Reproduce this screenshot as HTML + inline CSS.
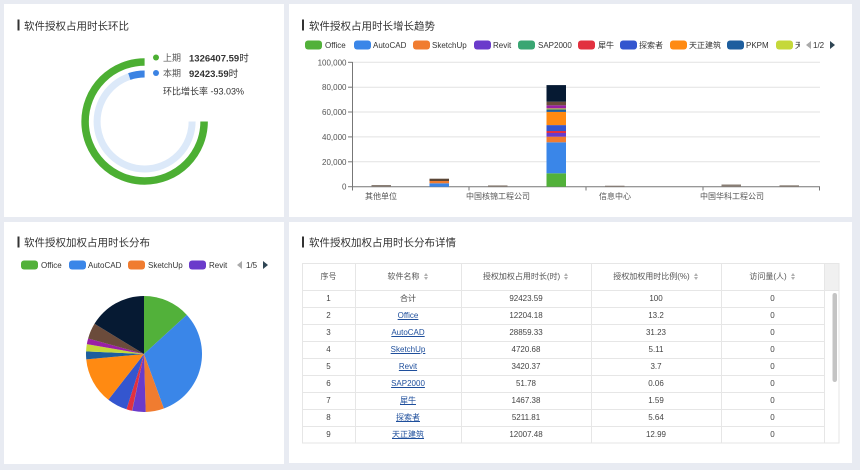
<!DOCTYPE html>
<html><head><meta charset="utf-8">
<style>
html,body{margin:0;padding:0;}
body{width:860px;height:470px;overflow:hidden;background:#e8ebf2;position:relative;font-family:"Liberation Sans","Noto Sans CJK SC",sans-serif;}
svg{position:absolute;left:0;top:0;}
.r{position:absolute;left:302px;width:522px;height:17px;line-height:17px;font-size:8px;color:#444;}
.h{position:absolute;left:302px;width:522px;height:27px;line-height:27px;font-size:8px;color:#555;}
.c{position:absolute;top:0;text-align:center;white-space:nowrap;}
.c1{left:0;width:53px}.c2{left:53px;width:106px}.c3{left:159px;width:130px}.c4{left:289px;width:130px}.c5{left:419px;width:103px}
.s{display:inline-block;width:5px;height:7px;position:relative;vertical-align:-1px;margin-left:4px;}
.s:before{content:"";position:absolute;left:0;top:0;border-left:2.5px solid transparent;border-right:2.5px solid transparent;border-bottom:3px solid #b0b0b0;}
.s:after{content:"";position:absolute;left:0;bottom:0;border-left:2.5px solid transparent;border-right:2.5px solid transparent;border-top:3px solid #b0b0b0;}
a{color:#1f4f9c;text-decoration:underline;}
</style></head>
<body>
<svg width="860" height="470" viewBox="0 0 860 470" font-family="'Liberation Sans','Noto Sans CJK SC',sans-serif">
<defs>
<clipPath id="lgclip"><rect x="289" y="30" width="511" height="25"/></clipPath>
</defs>
<!-- panels -->
<rect x="4" y="4" width="280" height="213" fill="#fff"/>
<rect x="289" y="4" width="563" height="213" fill="#fff"/>
<rect x="4" y="222" width="280" height="242" fill="#fff"/>
<rect x="289" y="222" width="563" height="241" fill="#fff"/>

<!-- titles -->
<rect x="17.5" y="19.5" width="2" height="11" fill="#333"/>
<text x="24" y="29.5" font-size="10.5" fill="#333">软件授权占用时长环比</text>
<rect x="302" y="19.5" width="2" height="11" fill="#333"/>
<text x="309" y="29.5" font-size="10.5" fill="#333">软件授权占用时长增长趋势</text>
<rect x="17.5" y="236.5" width="2" height="11" fill="#333"/>
<text x="24" y="246" font-size="10.5" fill="#333">软件授权加权占用时长分布</text>
<rect x="302" y="236.5" width="2" height="11" fill="#333"/>
<text x="309" y="246" font-size="10.5" fill="#333">软件授权加权占用时长分布详情</text>

<!-- gauge -->
<path d="M144.6 62 A59.5 59.5 0 1 0 204.1 121.5" stroke="#4caf33" stroke-width="7.5" fill="none"/>
<path d="M144.6 74 A47.5 47.5 0 1 0 192.1 121.5" stroke="#dce9f9" stroke-width="7" fill="none"/>
<path d="M144.6 74 A47.5 47.5 0 0 0 129.3 76.5" stroke="#3b83e3" stroke-width="7" fill="none"/>
<circle cx="156" cy="57.5" r="3" fill="#4caf33"/>
<text x="163" y="61" font-size="9" fill="#555">上期</text>
<text x="189" y="61.5" font-size="9.5" fill="#333"><tspan font-weight="bold">1326407.59</tspan><tspan>时</tspan></text>
<circle cx="156" cy="73" r="3" fill="#3b83e3"/>
<text x="163" y="76.5" font-size="9" fill="#555">本期</text>
<text x="189" y="77" font-size="9.5" fill="#333"><tspan font-weight="bold">92423.59</tspan><tspan>时</tspan></text>
<text x="163" y="94.5" font-size="9" fill="#333">环比增长率 -93.03%</text>

<!-- bar chart legend -->
<g clip-path="url(#lgclip)" font-size="8" fill="#333">
<rect x="305" y="40.5" width="17" height="9" rx="3" fill="#52b13a"/><text x="325" y="48">Office</text>
<rect x="354" y="40.5" width="17" height="9" rx="3" fill="#3a86e8"/><text x="373" y="48">AutoCAD</text>
<rect x="413" y="40.5" width="17" height="9" rx="3" fill="#f07c30"/><text x="432" y="48">SketchUp</text>
<rect x="474" y="40.5" width="17" height="9" rx="3" fill="#6a3bcb"/><text x="493" y="48">Revit</text>
<rect x="518" y="40.5" width="17" height="9" rx="3" fill="#3aa673"/><text x="538" y="48">SAP2000</text>
<rect x="578" y="40.5" width="17" height="9" rx="3" fill="#e2313f"/><text x="598" y="48">犀牛</text>
<rect x="620" y="40.5" width="17" height="9" rx="3" fill="#3456cf"/><text x="639" y="48">探索者</text>
<rect x="670" y="40.5" width="17" height="9" rx="3" fill="#ff8a12"/><text x="689" y="48">天正建筑</text>
<rect x="727" y="40.5" width="17" height="9" rx="3" fill="#1d5e9e"/><text x="746" y="48">PKPM</text>
<rect x="776" y="40.5" width="17" height="9" rx="3" fill="#c5d83a"/><text x="795" y="48">天正结构</text>
</g>
<polygon points="806,45 811,41 811,49" fill="#aaa"/>
<text x="813" y="48" font-size="8" fill="#333">1/2</text>
<polygon points="830,41 835,45 830,49" fill="#2f4554"/>

<!-- bar chart grid -->
<g stroke="#e2e2e2" stroke-width="1">
<line x1="352" y1="62.3" x2="820" y2="62.3"/>
<line x1="352" y1="87.2" x2="820" y2="87.2"/>
<line x1="352" y1="112" x2="820" y2="112"/>
<line x1="352" y1="136.9" x2="820" y2="136.9"/>
<line x1="352" y1="161.8" x2="820" y2="161.8"/>
</g>
<g stroke="#777" stroke-width="1">
<line x1="352.5" y1="62" x2="352.5" y2="187"/>
<line x1="348" y1="62.3" x2="352.5" y2="62.3"/>
<line x1="348" y1="87.2" x2="352.5" y2="87.2"/>
<line x1="348" y1="112" x2="352.5" y2="112"/>
<line x1="348" y1="136.9" x2="352.5" y2="136.9"/>
<line x1="348" y1="161.8" x2="352.5" y2="161.8"/>
<line x1="348" y1="186.7" x2="352.5" y2="186.7"/>
<line x1="352" y1="186.7" x2="820" y2="186.7"/>
<line x1="352.5" y1="186.7" x2="352.5" y2="190.5"/>
<line x1="469" y1="186.7" x2="469" y2="190.5"/>
<line x1="586" y1="186.7" x2="586" y2="190.5"/>
<line x1="703" y1="186.7" x2="703" y2="190.5"/>
<line x1="819.5" y1="186.7" x2="819.5" y2="190.5"/>
</g>
<g font-size="8" fill="#555" text-anchor="end">
<text x="346.5" y="65.3">100,000</text>
<text x="346.5" y="90.2">80,000</text>
<text x="346.5" y="115">60,000</text>
<text x="346.5" y="139.9">40,000</text>
<text x="346.5" y="164.8">20,000</text>
<text x="346.5" y="189.7">0</text>
</g>
<g font-size="8" fill="#555" text-anchor="middle">
<text x="381" y="199">其他单位</text>
<text x="498" y="199">中国核锦工程公司</text>
<text x="615" y="199">信息中心</text>
<text x="732" y="199">中国华科工程公司</text>
</g>
<!-- bars -->
<rect x="371.5" y="185" width="19.5" height="1.7" fill="#8a7f76"/>
<rect x="429.5" y="183.3" width="19.5" height="3.4" fill="#3a86e8"/>
<rect x="429.5" y="181" width="19.5" height="2.3" fill="#f07c30"/>
<rect x="429.5" y="178.7" width="19.5" height="2.3" fill="#5b4636"/>
<rect x="488" y="185.4" width="19.5" height="1.3" fill="#8a7f76"/>
<rect x="546.5" y="173.3" width="19.5" height="13.4" fill="#52b13a"/>
<rect x="546.5" y="142.3" width="19.5" height="31" fill="#3a86e8"/>
<rect x="546.5" y="136.7" width="19.5" height="5.6" fill="#f07c30"/>
<rect x="546.5" y="133" width="19.5" height="3.7" fill="#6a3bcb"/>
<rect x="546.5" y="131" width="19.5" height="2" fill="#e2313f"/>
<rect x="546.5" y="125.1" width="19.5" height="5.9" fill="#3456cf"/>
<rect x="546.5" y="111.9" width="19.5" height="13.2" fill="#ff8a12"/>
<rect x="546.5" y="109.5" width="19.5" height="2.4" fill="#1d5e9e"/>
<rect x="546.5" y="108.4" width="19.5" height="1.1" fill="#c5d83a"/>
<rect x="546.5" y="105.3" width="19.5" height="3.1" fill="#9a1fa6"/>
<rect x="546.5" y="101.7" width="19.5" height="3.6" fill="#6b4b3b"/>
<rect x="546.5" y="85.1" width="19.5" height="16.6" fill="#061a33"/>
<rect x="605" y="185.7" width="19.5" height="1" fill="#8a7f76"/>
<rect x="721.5" y="184.5" width="19.5" height="2.2" fill="#8a7f76"/>
<rect x="779.5" y="185.3" width="19.5" height="1.4" fill="#8a7f76"/>

<!-- pie legend -->
<g font-size="8" fill="#333">
<rect x="21" y="260.5" width="17" height="9" rx="3" fill="#52b13a"/><text x="41" y="268">Office</text>
<rect x="69" y="260.5" width="17" height="9" rx="3" fill="#3a86e8"/><text x="88" y="268">AutoCAD</text>
<rect x="128" y="260.5" width="17" height="9" rx="3" fill="#f07c30"/><text x="148" y="268">SketchUp</text>
<rect x="189" y="260.5" width="17" height="9" rx="3" fill="#6a3bcb"/><text x="209" y="268">Revit</text>
<text x="246" y="268">1/5</text>
</g>
<polygon points="237,265 242,261 242,269" fill="#aaa"/>
<polygon points="263,261 268,265 263,269" fill="#2f4554"/>

<!-- pie -->
<path d="M144 354 L144 296 A58 58 0 0 1 186.78 314.83 Z" fill="#52b13a"/>
<path d="M144 354 L186.78 314.83 A58 58 0 0 1 163.88 408.49 Z" fill="#3a86e8"/>
<path d="M144 354 L163.88 408.49 A58 58 0 0 1 145.68 411.98 Z" fill="#f07c30"/>
<path d="M144 354 L145.68 411.98 A58 58 0 0 1 132.28 410.81 Z" fill="#6a3bcb"/>
<path d="M144 354 L132.28 410.81 A58 58 0 0 1 132.06 410.76 Z" fill="#3aa673"/>
<path d="M144 354 L132.06 410.76 A58 58 0 0 1 126.46 409.29 Z" fill="#e2313f"/>
<path d="M144 354 L126.46 409.29 A58 58 0 0 1 108.36 399.76 Z" fill="#3456cf"/>
<path d="M144 354 L108.36 399.76 A58 58 0 0 1 86.25 359.39 Z" fill="#ff8a12"/>
<path d="M144 354 L86.25 359.39 A58 58 0 0 1 86.06 351.38 Z" fill="#1d5e9e"/>
<path d="M144 354 L86.06 351.38 A58 58 0 0 1 86.84 344.14 Z" fill="#c5d83a"/>
<path d="M144 354 L86.84 344.14 A58 58 0 0 1 88.12 338.45 Z" fill="#9a1fa6"/>
<path d="M144 354 L88.12 338.45 A58 58 0 0 1 94.49 323.79 Z" fill="#6b4b3b"/>
<path d="M144 354 L94.49 323.79 A58 58 0 0 1 144 296 Z" fill="#061a33"/>

<!-- table lines -->
<rect x="824" y="263" width="15" height="27" fill="#f0f0f0"/>
<g stroke="#e6e6e6" stroke-width="1" fill="none">
<rect x="302.5" y="263.5" width="536.5" height="179.5"/>
<line x1="302" y1="290.5" x2="839" y2="290.5"/>
<line x1="302" y1="307.5" x2="824" y2="307.5"/>
<line x1="302" y1="324.5" x2="824" y2="324.5"/>
<line x1="302" y1="341.5" x2="824" y2="341.5"/>
<line x1="302" y1="358.5" x2="824" y2="358.5"/>
<line x1="302" y1="375.5" x2="824" y2="375.5"/>
<line x1="302" y1="392.5" x2="824" y2="392.5"/>
<line x1="302" y1="409.5" x2="824" y2="409.5"/>
<line x1="302" y1="426.5" x2="824" y2="426.5"/>
<line x1="355.5" y1="263" x2="355.5" y2="443"/>
<line x1="461.5" y1="263" x2="461.5" y2="443"/>
<line x1="591.5" y1="263" x2="591.5" y2="443"/>
<line x1="721.5" y1="263" x2="721.5" y2="443"/>
<line x1="824.5" y1="263" x2="824.5" y2="443"/>
</g>
<rect x="832.5" y="293" width="4.5" height="89" rx="2.2" fill="#c4c4c4"/>
</svg>

<div class="h" style="top:263px">
<div class="c c1">序号</div>
<div class="c c2">软件名称<span class="s"></span></div>
<div class="c c3">授权加权占用时长(时)<span class="s"></span></div>
<div class="c c4">授权加权用时比例(%)<span class="s"></span></div>
<div class="c c5">访问量(人)<span class="s"></span></div>
</div>
<div class="r" style="top:290px"><div class="c c1">1</div><div class="c c2">合计</div><div class="c c3">92423.59</div><div class="c c4">100</div><div class="c c5">0</div></div>
<div class="r" style="top:307px"><div class="c c1">2</div><div class="c c2"><a>Office</a></div><div class="c c3">12204.18</div><div class="c c4">13.2</div><div class="c c5">0</div></div>
<div class="r" style="top:324px"><div class="c c1">3</div><div class="c c2"><a>AutoCAD</a></div><div class="c c3">28859.33</div><div class="c c4">31.23</div><div class="c c5">0</div></div>
<div class="r" style="top:341px"><div class="c c1">4</div><div class="c c2"><a>SketchUp</a></div><div class="c c3">4720.68</div><div class="c c4">5.11</div><div class="c c5">0</div></div>
<div class="r" style="top:358px"><div class="c c1">5</div><div class="c c2"><a>Revit</a></div><div class="c c3">3420.37</div><div class="c c4">3.7</div><div class="c c5">0</div></div>
<div class="r" style="top:375px"><div class="c c1">6</div><div class="c c2"><a>SAP2000</a></div><div class="c c3">51.78</div><div class="c c4">0.06</div><div class="c c5">0</div></div>
<div class="r" style="top:392px"><div class="c c1">7</div><div class="c c2"><a>犀牛</a></div><div class="c c3">1467.38</div><div class="c c4">1.59</div><div class="c c5">0</div></div>
<div class="r" style="top:409px"><div class="c c1">8</div><div class="c c2"><a>探索者</a></div><div class="c c3">5211.81</div><div class="c c4">5.64</div><div class="c c5">0</div></div>
<div class="r" style="top:426px"><div class="c c1">9</div><div class="c c2"><a>天正建筑</a></div><div class="c c3">12007.48</div><div class="c c4">12.99</div><div class="c c5">0</div></div>
</body></html>
